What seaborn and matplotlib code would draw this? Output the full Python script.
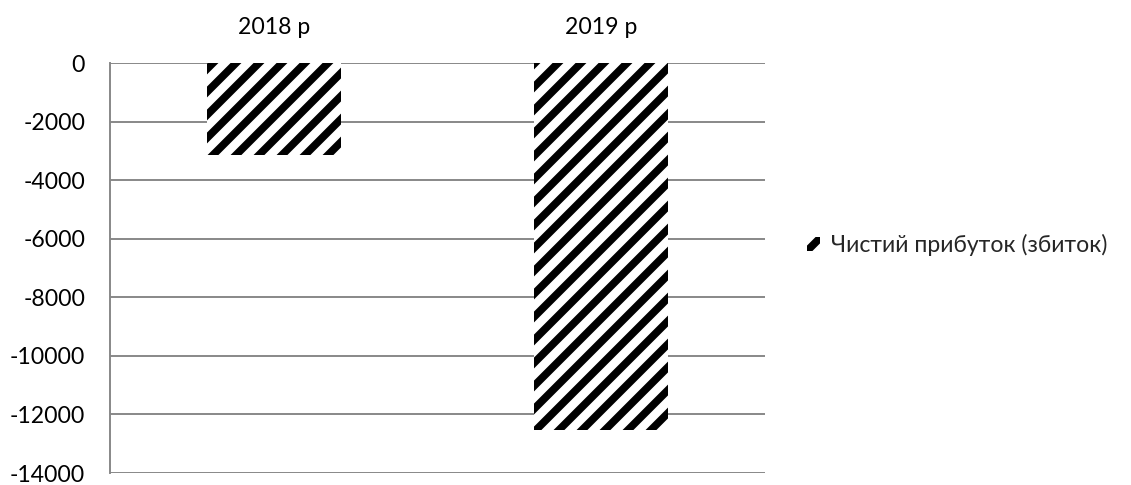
import matplotlib
matplotlib.use("Agg")
import matplotlib.pyplot as plt
import seaborn as sns
import pandas as pd

# Net profit (loss) by year
years = ["2018 р", "2019 р"]
net_profit = [-3130, -12530]
series_label = "Чистий прибуток (збиток)"
y_ticks = [0, -2000, -4000, -6000, -8000, -10000, -12000, -14000]

sns.set_theme(style="white")
plt.rcParams["font.family"] = ["Lato", "DejaVu Sans"]
plt.rcParams["hatch.linewidth"] = 4.0

DPI = 138
W, H = 1131, 485
fig = plt.figure(figsize=(W / DPI, H / DPI), dpi=DPI)
ax = fig.add_axes([110 / W, 1 - 473 / H, 655 / W, 410 / H])

df = pd.DataFrame({"year": years, "value": net_profit})
sns.barplot(data=df, x="year", y="value", ax=ax, color="white",
            width=0.41, edgecolor="black", linewidth=0, saturation=1)
for p in ax.patches:
    p.set_hatch("//")
    p.set_facecolor("white")
    p.set_edgecolor("black")
    p.set_linewidth(0)

grid_color = "#868686"
ax.set_ylim(-14000, 0)
ax.set_yticks(y_ticks)
ax.set_yticklabels([str(v) for v in y_ticks])
ax.yaxis.grid(True, color=grid_color, linewidth=1.0)
ax.set_axisbelow(True)
ax.tick_params(axis="y", length=0, pad=13, labelsize=12, colors="black")

ax.xaxis.tick_top()
ax.tick_params(axis="x", length=0, pad=13, labelsize=12, colors="black")
ax.set_xlabel("")
ax.set_ylabel("")

for side in ["top", "right", "bottom"]:
    ax.spines[side].set_visible(False)
ax.spines["left"].set_color(grid_color)
ax.spines["left"].set_linewidth(1.0)

handle = ax.patches[0]
leg = fig.legend([handle], [series_label], loc="center left",
                 bbox_to_anchor=(807 / W, 1 - 245 / H), frameon=False,
                 fontsize=12, handlelength=0.55, handleheight=0.55,
                 handletextpad=0.5, borderpad=0, borderaxespad=0)

fig.savefig("out.png", dpi=DPI, facecolor="white")
